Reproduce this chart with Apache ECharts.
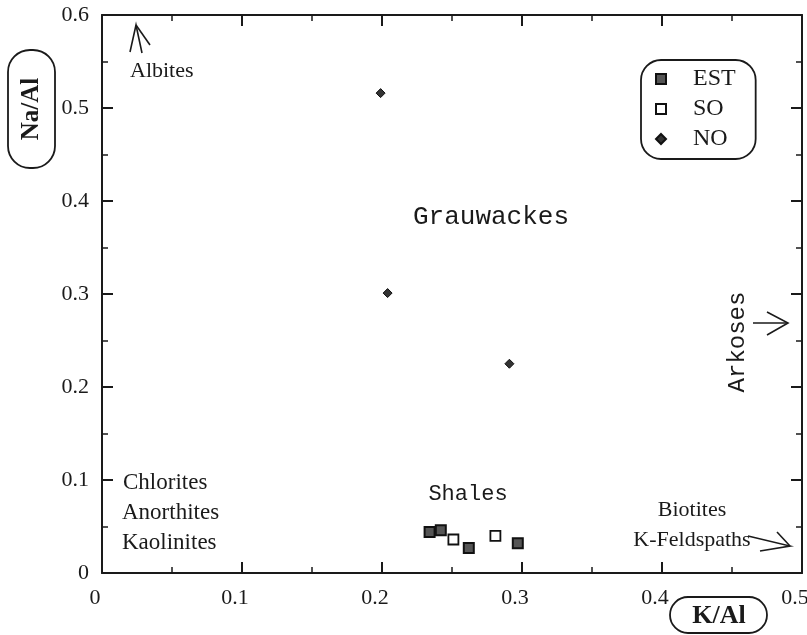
<!DOCTYPE html>
<html>
<head>
<meta charset="utf-8">
<script src="https://cdn.jsdelivr.net/npm/echarts@6/dist/echarts.min.js"></script>
<style>
  html, body { margin: 0; padding: 0; background: #fff; }
  #main { width: 807px; height: 635px; }
</style>
</head>
<body>
<div id="main"></div>
<script>
// K/Al vs Na/Al
var xTicks = [0, 0.1, 0.2, 0.3, 0.4, 0.5];
var yTicks = [0, 0.1, 0.2, 0.3, 0.4, 0.5, 0.6];

var estK  = [0.234, 0.242, 0.262, 0.297];
var estNa = [0.044, 0.046, 0.027, 0.032];

var soK  = [0.251, 0.281];
var soNa = [0.036, 0.040];

var noK  = [0.199, 0.204, 0.291];
var noNa = [0.516, 0.301, 0.225];

function pairs(xs, ys) {
  var out = [];
  for (var i = 0; i < xs.length; i++) out.push([xs[i], ys[i]]);
  return out;
}

var serif = 'Liberation Serif';
var ink = '#1a1a1a';

var myChart = echarts.init(document.getElementById('main'));

var axisCommon = {
  type: 'value',
  axisLine: { show: true, onZero: false, lineStyle: { color: ink, width: 2 } },
  axisTick: { show: true, inside: true, length: 11, lineStyle: { color: ink, width: 2 } },
  minorTick: { show: true, splitNumber: 2, length: 6, lineStyle: { color: ink, width: 1.5 } },
  splitLine: { show: false }
};

function tickText(list) {
  return function (v) {
    var r = +v.toFixed(1);
    return list.indexOf(r) >= 0 ? String(r) : '';
  };
}

var option = {
  backgroundColor: '#fff',
  animation: false,
  grid: { left: 102, right: 5, top: 15, bottom: 62, outerBoundsMode: 'none' },
  xAxis: [
    echarts.util.merge({
      min: 0, max: 0.5, interval: 0.1, position: 'bottom',
      axisLabel: {
        color: ink, fontFamily: serif, fontSize: 22, margin: 14,
        padding: [0, 14, 0, 0],
        formatter: tickText(xTicks)
      }
    }, axisCommon, true),
    echarts.util.merge({
      min: 0, max: 0.5, interval: 0.1, position: 'top',
      axisLabel: { show: false }
    }, axisCommon, true)
  ],
  yAxis: [
    echarts.util.merge({
      min: 0, max: 0.6, interval: 0.1, position: 'left',
      axisLabel: {
        color: ink, fontFamily: serif, fontSize: 22, margin: 13,
        formatter: tickText(yTicks)
      }
    }, axisCommon, true),
    echarts.util.merge({
      min: 0, max: 0.6, interval: 0.1, position: 'right',
      axisTick: { length: 8 },
      axisLabel: { show: false }
    }, axisCommon, true)
  ],
  legend: {
    left: 641, top: 60,
    orient: 'vertical',
    padding: [7, 20, 8, 14],
    itemGap: 6,
    itemWidth: 10, itemHeight: 10,
    borderColor: ink, borderWidth: 1.8, borderRadius: 20,
    textStyle: { color: ink, fontFamily: serif, fontSize: 24, lineHeight: 24, padding: [0, 0, 0, 22] },
    data: ['EST', 'SO', 'NO']
  },
  series: [
    {
      name: 'EST', type: 'scatter', symbol: 'rect', symbolSize: 10,
      itemStyle: { color: '#555', borderColor: '#111', borderWidth: 2, opacity: 1 },
      data: pairs(estK, estNa)
    },
    {
      name: 'SO', type: 'scatter', symbol: 'rect', symbolSize: 10,
      itemStyle: { color: '#fff', borderColor: '#111', borderWidth: 1.8, opacity: 1 },
      data: pairs(soK, soNa)
    },
    {
      name: 'NO', type: 'scatter', symbol: 'diamond', symbolSize: 9,
      itemStyle: { color: '#333', borderColor: '#111', borderWidth: 1, opacity: 1 },
      data: pairs(noK, noNa)
    }
  ],
  graphic: [
    // axis name boxes
    { type: 'rect', shape: { x: 8, y: 50, width: 47, height: 118, r: 22 },
      style: { fill: 'none', stroke: ink, lineWidth: 1.8 } },
    { type: 'text', x: 32, y: 109, rotation: Math.PI / 2,
      style: { text: 'Na/Al', fill: ink, font: 'bold 25px "Liberation Serif"', align: 'center', verticalAlign: 'middle' } },
    { type: 'rect', shape: { x: 670, y: 597, width: 97, height: 36, r: 18 },
      style: { fill: '#fff', stroke: ink, lineWidth: 1.8 } },
    { type: 'text', x: 719, y: 616,
      style: { text: 'K/Al', fill: ink, font: 'bold 26px "Liberation Serif"', align: 'center', verticalAlign: 'middle' } },

    // field labels
    { type: 'text', x: 130, y: 71,
      style: { text: 'Albites', fill: ink, font: '22px "Liberation Serif"', align: 'left', verticalAlign: 'middle' } },
    { type: 'text', x: 491, y: 217,
      style: { text: 'Grauwackes', fill: ink, font: '26px "Liberation Mono"', align: 'center', verticalAlign: 'middle' } },
    { type: 'text', x: 468, y: 494,
      style: { text: 'Shales', fill: ink, font: '22px "Liberation Mono"', align: 'center', verticalAlign: 'middle' } },
    { type: 'text', x: 738, y: 342, rotation: Math.PI / 2,
      style: { text: 'Arkoses', fill: ink, font: '24px "Liberation Mono"', align: 'center', verticalAlign: 'middle' } },
    { type: 'text', x: 123, y: 483,
      style: { text: 'Chlorites', fill: ink, font: '23px "Liberation Serif"', align: 'left', verticalAlign: 'middle' } },
    { type: 'text', x: 122, y: 513,
      style: { text: 'Anorthites', fill: ink, font: '23px "Liberation Serif"', align: 'left', verticalAlign: 'middle' } },
    { type: 'text', x: 122, y: 543,
      style: { text: 'Kaolinites', fill: ink, font: '23px "Liberation Serif"', align: 'left', verticalAlign: 'middle' } },
    { type: 'text', x: 692, y: 510,
      style: { text: 'Biotites', fill: ink, font: '22px "Liberation Serif"', align: 'center', verticalAlign: 'middle' } },
    { type: 'text', x: 692, y: 540,
      style: { text: 'K-Feldspaths', fill: ink, font: '22px "Liberation Serif"', align: 'center', verticalAlign: 'middle' } },

    // arrows
    { type: 'polyline', shape: { points: [[142, 53], [136, 25], [130, 52]] }, style: { stroke: ink, lineWidth: 1.6, fill: 'none' } },
    { type: 'polyline', shape: { points: [[136, 25], [150, 45]] }, style: { stroke: ink, lineWidth: 1.6, fill: 'none' } },
    { type: 'polyline', shape: { points: [[753, 323], [788, 323]] }, style: { stroke: ink, lineWidth: 1.6, fill: 'none' } },
    { type: 'polyline', shape: { points: [[767, 312], [788, 323], [767, 335]] }, style: { stroke: ink, lineWidth: 1.6, fill: 'none' } },
    { type: 'polyline', shape: { points: [[748, 536], [790, 546], [760, 551]] }, style: { stroke: ink, lineWidth: 1.6, fill: 'none' } },
    { type: 'polyline', shape: { points: [[777, 532], [790, 546]] }, style: { stroke: ink, lineWidth: 1.6, fill: 'none' } }
  ]
};

myChart.setOption(option);
</script>
</body>
</html>
